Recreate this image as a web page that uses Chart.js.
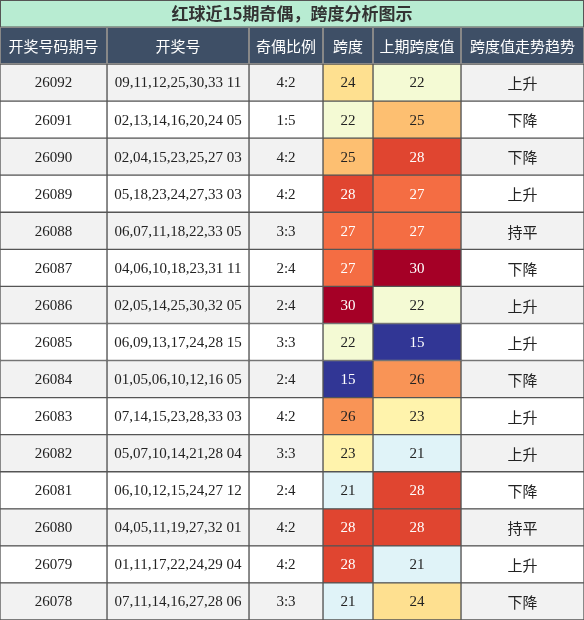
<!DOCTYPE html>
<html><head><meta charset="utf-8">
<script src="https://cdn.jsdelivr.net/npm/chart.js@4/dist/chart.umd.min.js"></script>
<style>body{margin:0;background:#fff}#wrap{width:584px;height:620px}</style>
</head><body><div id="wrap"><canvas id="c"></canvas></div>
<script>
const title = "红球近15期奇偶，跨度分析图示";
const headers = ["开奖号码期号", "开奖号", "奇偶比例", "跨度", "上期跨度值", "跨度值走势趋势"];
const issues = ["26092","26091","26090","26089","26088","26087","26086","26085","26084","26083","26082","26081","26080","26079","26078"];
const draws = ["09,11,12,25,30,33 11","02,13,14,16,20,24 05","02,04,15,23,25,27 03","05,18,23,24,27,33 03","06,07,11,18,22,33 05","04,06,10,18,23,31 11","02,05,14,25,30,32 05","06,09,13,17,24,28 15","01,05,06,10,12,16 05","07,14,15,23,28,33 03","05,07,10,14,21,28 04","06,10,12,15,24,27 12","04,05,11,19,27,32 01","01,11,17,22,24,29 04","07,11,14,16,27,28 06"];
const ratios = ["4:2","1:5","4:2","4:2","3:3","2:4","2:4","3:3","2:4","4:2","3:3","2:4","4:2","4:2","3:3"];
const spans = [24,22,25,28,27,27,30,22,15,26,23,21,28,28,21];
const prevSpans = [22,25,28,27,27,30,22,15,26,23,21,28,28,21,24];
const trends = ["上升","下降","下降","上升","持平","下降","上升","上升","下降","上升","上升","下降","持平","上升","下降"];
const colEdges = [0,107,249,323,373,461,584];

const spanColor = {15:"#313695",21:"#e0f3f8",22:"#f4fad4",23:"#fff3ac",24:"#fee090",25:"#fdbf71",26:"#f99456",27:"#f46d43",28:"#e04530",30:"#a50026"};
const spanText = v => (v === 15 || v >= 27) ? "#fff" : "#222";
const rowBg = i => i % 2 === 0 ? "#f2f2f2" : "#ffffff";
const cols = [issues, draws, ratios, spans, prevSpans, trends];

const datasets = cols.map((col, c) => ({
  data: issues.map(() => [colEdges[c], colEdges[c+1]]),
  backgroundColor: issues.map((_, i) => (c === 3 || c === 4) ? spanColor[col[i]] : rowBg(i)),
  borderColor: "#555", borderWidth: 1, borderSkipped: false,
  categoryPercentage: 1, barPercentage: 1, grouped: false,
  labelsText: col.map(String),
  textColors: col.map(v => (c === 3 || c === 4) ? spanText(v) : "#222")
}));

const tablePlugin = {
  id: "table",
  afterDatasetsDraw(chart) {
    const ctx = chart.ctx;
    ctx.save();
    ctx.textAlign = "center"; ctx.textBaseline = "middle";
    chart.data.datasets.forEach((ds, c) => {
      chart.getDatasetMeta(c).data.forEach((el, i) => {
        ctx.fillStyle = ds.textColors[i];
        ctx.font = (c === 5 ? "15px 'Noto Sans CJK SC'" : "15px 'Liberation Serif'");
        ctx.fillText(ds.labelsText[i], (el.x + el.base) / 2, el.y + 1);
      });
    });
    // title band
    ctx.fillStyle = "#b8ecd2"; ctx.fillRect(0, 0, 584, 27);
    ctx.strokeStyle = "#555"; ctx.strokeRect(0.5, 0.5, 583, 26.5);
    ctx.fillStyle = "#333"; ctx.font = "bold 17px 'Noto Sans CJK SC'";
    ctx.fillText(title, 292, 14);
    // header row
    ctx.font = "15px 'Noto Sans CJK SC'";
    headers.forEach((h, c) => {
      ctx.fillStyle = "#3e4f66";
      ctx.fillRect(colEdges[c], 27, colEdges[c+1] - colEdges[c], 37);
      ctx.strokeStyle = "#888"; ctx.strokeRect(colEdges[c] + 0.5, 27.5, colEdges[c+1] - colEdges[c] - 1, 36);
      ctx.fillStyle = "#fff";
      ctx.fillText(h, (colEdges[c] + colEdges[c+1]) / 2, 46);
    });
    ctx.restore();
  }
};

new Chart(document.getElementById("c"), {
  type: "bar",
  data: { labels: issues, datasets },
  options: {
    indexAxis: "y", responsive: true, maintainAspectRatio: false, animation: false,
    layout: { padding: { top: 64, left: 0, right: 0, bottom: 0 } },
    scales: {
      x: { type: "linear", min: 0, max: 584, display: false },
      y: { display: false, offset: true }
    },
    plugins: { legend: { display: false }, tooltip: { enabled: false } }
  },
  plugins: [tablePlugin]
});
</script></body></html>
